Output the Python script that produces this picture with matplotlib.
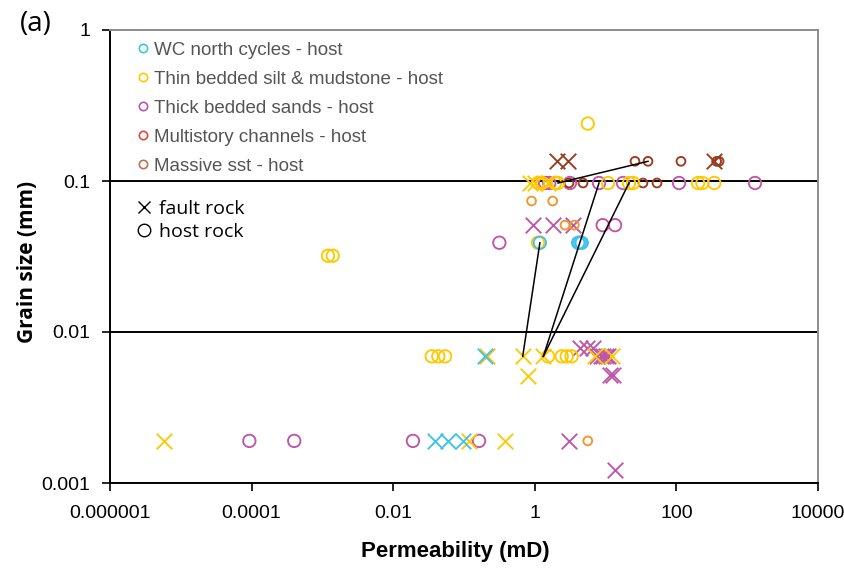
import matplotlib
matplotlib.use("Agg")
import matplotlib.pyplot as plt
from matplotlib.lines import Line2D

# ---- data (permeability mD, grain size mm) ----
wc_host_x = [1.18, 4.1, 4.35, 4.6]
wc_host_y = [0.039, 0.039, 0.039, 0.039]
wc_fault_x = [0.198, 0.039, 0.059, 0.097]
wc_fault_y = [0.0069, 0.0019, 0.0019, 0.0019]

thin_host_x = [0.0012, 0.0014, 5.6, 1.11, 1.26, 1.93, 2.13, 10.8, 21.4, 24.4, 202, 233, 343,
               1.11, 0.035, 0.0434, 0.054, 1.54, 2.40, 2.82, 3.31]
thin_host_y = [0.032, 0.032, 0.24, 0.097, 0.097, 0.097, 0.097, 0.097, 0.097, 0.097, 0.097, 0.097, 0.097,
               0.039, 0.0069, 0.0069, 0.0069, 0.0069, 0.0069, 0.0069, 0.0069]
thin_fault_x = [0.85, 1.0, 1.54, 5.8e-6, 0.116, 0.385, 0.211, 0.675, 1.32, 7.08, 12.2, 0.81]
thin_fault_y = [0.097, 0.097, 0.097, 0.0019, 0.0019, 0.0019, 0.0069, 0.0069, 0.0069, 0.0069, 0.0069, 0.0051]

thick_host_x = [1.4, 1.6, 3.14, 8.07, 17.6, 109, 1290, 9.1, 13.6, 0.316, 9.3e-5, 4.0e-4, 0.019, 0.163]
thick_host_y = [0.097, 0.097, 0.097, 0.097, 0.097, 0.097, 0.097, 0.051, 0.051, 0.039,
                0.0019, 0.0019, 0.0019, 0.0019]
thick_fault_x = [0.93, 1.82, 3.5, 4.35, 5.4, 6.6, 7.5, 8.5, 9.2, 10.0, 10.9, 11.5, 12.9, 3.04, 13.6]
thick_fault_y = [0.051, 0.051, 0.051, 0.0078, 0.0078, 0.0078, 0.0069, 0.0069, 0.0069, 0.0069, 0.0069,
                 0.0052, 0.0052, 0.0019, 0.00122]

multi_host_x = [0.90, 1.79, 2.67, 3.62, 5.6]
multi_host_y = [0.0737, 0.0737, 0.051, 0.051, 0.0019]

massive_host_x = [3.04, 4.8, 33.7, 53.2, 26.0, 39.7, 116, 370, 400]
massive_host_y = [0.097, 0.097, 0.097, 0.097, 0.135, 0.135, 0.135, 0.135, 0.135]
massive_fault_x = [2.06, 2.94, 340]
massive_fault_y = [0.135, 0.135, 0.135]

# fault rock -> host rock tie lines
tie_x = [(0.675, 1.18), (1.32, 8.07), (1.32, 21.4), (2.13, 39.7)]
tie_y = [(0.0069, 0.039), (0.0069, 0.097), (0.0069, 0.097), (0.097, 0.135)]

series_names = ['WC north cycles - host', 'Thin bedded silt & mudstone - host',
                'Thick bedded sands - host', 'Multistory channels - host', 'Massive sst - host']

x_ticks = [1e-6, 1e-4, 1e-2, 1, 100, 1e4]
x_ticklabels = ['0.000001', '0.0001', '0.01', '1', '100', '10000']
y_ticks = [0.001, 0.01, 0.1, 1]
y_ticklabels = ['0.001', '0.01', '0.1', '1']

c_wc = '#3EC3EE'
c_thin = '#FFC800'
c_thick = '#BF55A9'
c_multi = '#F2962C'
c_massive = '#9C3A1E'
legend_cols = [c_wc, c_thin, c_thick, '#E5473A', '#C0704E']

excel_font = ['Liberation Sans', 'DejaVu Sans']
myriad_font = ['Open Sans', 'DejaVu Sans']

fig = plt.figure(figsize=(8.45, 5.72), dpi=100)
ax = fig.add_axes([110 / 845, 1 - 483 / 572, 708 / 845, 453 / 572])
ax.set_xscale('log')
ax.set_yscale('log')
ax.set_xlim(1e-6, 1e4)
ax.set_ylim(1e-3, 1)

big = 80
small = 40
xs = 125
lw = 1.35


def host(x, y, c, s):
    ax.scatter(x, y, s=s, marker='o', facecolors='none', edgecolors=c, linewidths=lw, zorder=3)


def fault(x, y, c):
    ax.scatter(x, y, s=xs, marker='x', color=c, linewidths=lw, zorder=3)


host(thick_host_x, thick_host_y, c_thick, big)
fault(thick_fault_x, thick_fault_y, c_thick)
host(multi_host_x, multi_host_y, c_multi, small)
host(massive_host_x, massive_host_y, c_massive, small)
fault(massive_fault_x, massive_fault_y, c_massive)
host(thin_host_x, thin_host_y, c_thin, big)
fault(thin_fault_x, thin_fault_y, c_thin)
host(wc_host_x, wc_host_y, c_wc, big)
fault(wc_fault_x, wc_fault_y, c_wc)

for tx, ty in zip(tie_x, tie_y):
    ax.plot(tx, ty, color='black', lw=1.1, zorder=4)

# horizontal grid lines at 0.1 and 0.01
for gy in [0.1, 0.01]:
    ax.axhline(gy, color='black', lw=1.4, zorder=2)

ax.minorticks_off()
ax.set_xticks(x_ticks)
ax.set_xticklabels(x_ticklabels, family=excel_font, fontsize=14)
ax.set_yticks(y_ticks)
ax.set_yticklabels(y_ticklabels, family=excel_font, fontsize=14)
ax.tick_params(axis='both', direction='out', length=6, width=1.2, color='black')
ax.tick_params(axis='x', pad=10)
ax.tick_params(axis='y', pad=8)

for side in ['left', 'bottom']:
    ax.spines[side].set_color('black')
    ax.spines[side].set_linewidth(1.4)
for side in ['top', 'right']:
    ax.spines[side].set_color('#8c8c8c')
    ax.spines[side].set_linewidth(1.4)

# series legend
handles = [Line2D([], [], marker='o', ls='none', markersize=6, markerfacecolor='none',
                  markeredgecolor=c, markeredgewidth=1.2) for c in legend_cols]
leg1 = ax.legend(handles, series_names, loc='upper left', bbox_to_anchor=(0.015, 1.003),
                 frameon=False, handletextpad=0.1, handlelength=1.0, labelspacing=0.63,
                 borderaxespad=0.3, prop={'family': 'Liberation Sans', 'size': 13.5})
for t in leg1.get_texts():
    t.set_color('#555555')
ax.add_artist(leg1)

handles2 = [Line2D([], [], marker='x', ls='none', markersize=9, color='black', markeredgewidth=1.0),
            Line2D([], [], marker='o', ls='none', markersize=9, markerfacecolor='none',
                   markeredgecolor='black', markeredgewidth=1.0)]
ax.legend(handles2, ['fault rock', 'host rock'], loc='upper left', bbox_to_anchor=(0.01, 0.663),
          frameon=False, handletextpad=0.25, handlelength=1.0, labelspacing=0.26,
          prop={'family': 'Open Sans', 'size': 14})

fig.text(455 / 845, 1 - 551 / 572, 'Permeability (mD)', ha='center', va='center',
         family=excel_font, fontsize=16, fontweight='bold')
fig.text(28 / 845, 1 - 262 / 572, 'Grain size (mm)', ha='center', va='center', rotation=90,
         family=myriad_font, fontsize=15, fontweight='bold')
fig.text(36 / 845, 1 - 24 / 572, '(a)', ha='center', va='center', family=myriad_font, fontsize=20)

fig.savefig('out.png', dpi=100)
